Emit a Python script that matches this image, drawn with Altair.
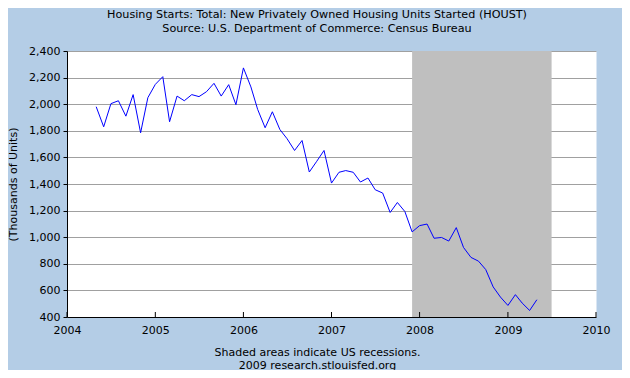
import altair as alt
import pandas as pd

TITLE_LINES = [
    "Housing Starts: Total: New Privately Owned Housing Units Started (HOUST)",
    "Source: U.S. Department of Commerce: Census Bureau",
]
FOOTER_LINES = ["Shaded areas indicate US recessions.", "2009 research.stlouisfed.org"]
Y_TITLE = "(Thousands of Units)"

START_MONTH = "2004-05-01"
HOUST = [
    1981, 1830, 2004, 2026, 1910, 2072, 1785, 2049,
    2149, 2207, 1868, 2061, 2026, 2072, 2057, 2094, 2157, 2061, 2147, 1996,
    2273, 2130, 1961, 1823, 1943, 1810, 1740, 1652, 1727, 1490, 1571, 1652,
    1407, 1488, 1501, 1488, 1415, 1445, 1357, 1332, 1186, 1261, 1193, 1040,
    1087, 1099, 992, 998, 971, 1072, 923, 848, 820, 757, 626, 550,
    487, 568, 505, 449, 530,
]
RECESSION_START = ["2007-12-01"]
RECESSION_END = ["2009-07-01"]
YEAR_TICKS = [2004, 2005, 2006, 2007, 2008, 2009, 2010]
Y_TICKS = list(range(400, 2401, 200))

W, H = 529, 266
FONT = "DejaVu Sans"

dates = pd.date_range(START_MONTH, periods=len(HOUST), freq="MS").strftime("%Y-%m-%d")
df = pd.DataFrame({"date": dates, "value": HOUST})
rec = pd.DataFrame({"start": RECESSION_START, "end": RECESSION_END})
ticks = pd.DataFrame({"date": [f"{y}-01-01" for y in YEAR_TICKS]})
titles = pd.DataFrame({"t": [TITLE_LINES[0]]})
titles2 = pd.DataFrame({"t": [TITLE_LINES[1]]})

xscale = alt.Scale(
    type="utc",
    domain=[alt.DateTime(year=YEAR_TICKS[0], month=1, date=1, utc=True),
            alt.DateTime(year=YEAR_TICKS[-1], month=1, date=1, utc=True)],
)
yscale = alt.Scale(domain=[Y_TICKS[0], Y_TICKS[-1]], nice=False, zero=False)

xaxis = alt.Axis(
    values=[alt.DateTime(year=y, month=1, date=1, utc=True) for y in YEAR_TICKS],
    format="%Y",
    grid=False,
    ticks=False,
    labelFlush=False,
    labelOverlap=False,
    labelPadding=7,
    domainColor="black",
    title=FOOTER_LINES,
    titleX=250,
    titleY=38,
    titleBaseline="alphabetic",
    titleAlign="center",
    titleLineHeight=13,
    titleFontWeight="normal",
    titleFontSize=11,
    titleFont=FONT,
    titleColor="black",
)
yaxis = alt.Axis(
    values=Y_TICKS,
    format=",d",
    grid=True,
    gridColor="#A0A0A0",
    tickColor="black",
    tickSize=4,
    labelPadding=3,
    domainColor="black",
    title=Y_TITLE,
    titleX=-51,
    titleY=H / 2,
    titleAngle=270,
    titleAlign="center",
    titleBaseline="alphabetic",
    titleFontWeight="normal",
    titleFontSize=11,
    titleFont=FONT,
    titleColor="black",
)

recession = alt.Chart(rec).mark_rect(color="#BFBFBF", opacity=1).encode(
    x=alt.X("start:T", scale=xscale, axis=xaxis),
    x2="end:T",
    y=alt.value(0),
    y2=alt.value(H),
)

line = alt.Chart(df).mark_line(color="#0000FF", strokeWidth=1).encode(
    x=alt.X("date:T", scale=xscale, axis=xaxis),
    y=alt.Y("value:Q", scale=yscale, axis=yaxis),
)

xticks = alt.Chart(ticks).mark_rule(color="black", strokeWidth=1).encode(
    x=alt.X("date:T", scale=xscale),
    y=alt.value(H - 5),
    y2=alt.value(H),
)

t1 = alt.Chart(titles).mark_text(
    font=FONT, fontSize=11.2, color="black", align="center", baseline="alphabetic"
).encode(text="t:N", x=alt.value(250), y=alt.value(-33.5))
t2 = alt.Chart(titles2).mark_text(
    font=FONT, fontSize=11.2, color="black", align="center", baseline="alphabetic"
).encode(text="t:N", x=alt.value(250), y=alt.value(-19))

chart = (
    alt.layer(recession, line, xticks, t1, t2)
    .properties(
        width=W,
        height=H,
        padding={"left": 59, "top": 43, "right": 26, "bottom": 53},
        autosize=alt.AutoSizeParams(type="none"),
        background="#B4CDE6",
    )
    .configure_view(fill="white", stroke="transparent")
    .configure_axis(labelFont=FONT, labelFontSize=11, labelColor="black")
)

chart.save("out.html", embed_options={"renderer": "svg", "actions": False})
